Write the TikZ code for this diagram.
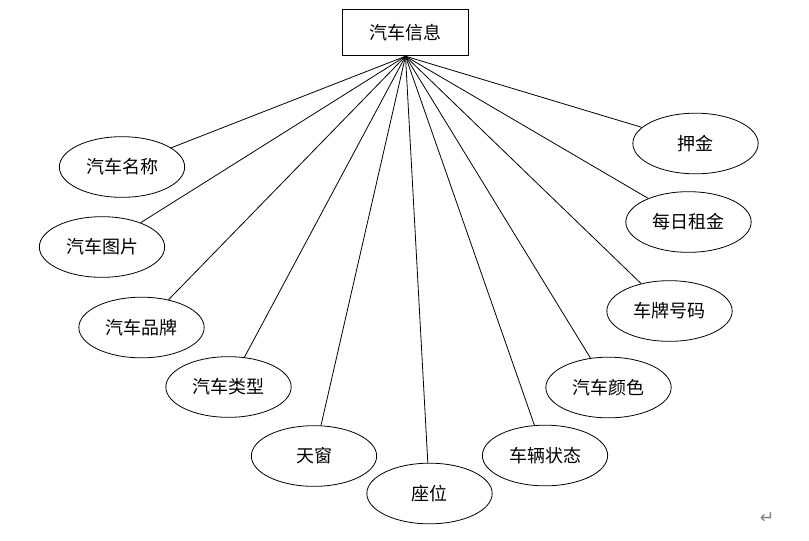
\documentclass[tikz,border=0pt]{standalone}
\usepackage{fontspec}
\newfontfamily\cjk{Noto Sans CJK SC}
\newfontfamily\djv{DejaVu Sans}
\usetikzlibrary{shapes.geometric}
\begin{document}
\begin{tikzpicture}[x=0.75pt,y=-0.75pt,
  attr/.style={draw,line width=0.6pt,ellipse,minimum width=94pt,minimum height=45.5pt,inner sep=0pt,font=\cjk\fontsize{13.5}{15}\selectfont},
  entity/.style={draw,line width=0.6pt,rectangle,minimum width=94pt,minimum height=35pt,inner sep=0pt,font=\cjk\fontsize{13.5}{15}\selectfont},
  link/.style={line width=0.6pt}]
\useasboundingbox (0,0) rectangle (809,540);
\node[entity] (car) at (405.5,32.5) {汽车信息};
\node[attr] (a1) at (122,167) {汽车名称};
\node[attr] (a2) at (102,247) {汽车图片};
\node[attr] (a3) at (141.5,327.5) {汽车品牌};
\node[attr] (a4) at (228.5,387) {汽车类型};
\node[attr] (a5) at (314,456) {天窗};
\node[attr] (a6) at (429.5,493.5) {座位};
\node[attr] (a7) at (545,455.5) {车辆状态};
\node[attr] (a8) at (608.5,387.5) {汽车颜色};
\node[attr] (a9) at (669.5,311) {车牌号码};
\node[attr] (a10) at (688.5,222) {每日租金};
\node[attr] (a11) at (695.5,143.5) {押金};
\foreach \n in {a1,a2,a3,a4,a5,a6,a7,a8,a9,a10,a11}
  \draw[link] (car.south) -- (\n);
\node[text=gray,font=\djv\fontsize{13}{14}\selectfont] (ret) at (767,518) {↵};
\end{tikzpicture}
\end{document}
